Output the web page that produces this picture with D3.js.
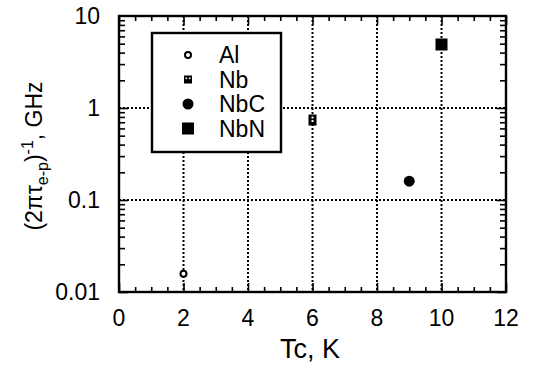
<!DOCTYPE html>
<html>
<head>
<meta charset="utf-8">
<script src="https://cdn.jsdelivr.net/npm/d3@7"></script>
<style>
  body { margin: 0; background: #fff; }
  text { font-family: 'Liberation Sans', Arial, sans-serif; fill: #000; }
</style>
</head>
<body>
<div class="chart"></div>
<script>
// Data
const materials = ['Al', 'Nb', 'NbC', 'NbN'];
const tcValues = [2, 6, 9, 10];
const rateValues = [0.0158, 0.74, 0.16, 4.9];
const markerTypes = ['openCircle', 'dotSquare', 'circle', 'square'];
const xTicks = [0, 2, 4, 6, 8, 10, 12];
const yTicks = [0.01, 0.1, 1, 10];

const w = 538;
const h = 368;
const margin = { top: 16, right: 32, bottom: 76, left: 119 };
const innerW = w - margin.left - margin.right;
const innerH = h - margin.top - margin.bottom;

const svg = d3.select('.chart').append('svg').attr('width', w).attr('height', h);
const g = svg.append('g').attr('transform', `translate(${margin.left},${margin.top})`);

const xScale = d3.scaleLinear().domain([0, 12]).range([0, innerW]);
const yScale = d3.scaleLog().domain([0.01, 10]).range([innerH, 0]);

// grid (dotted)
const gridX = [2, 4, 6, 8, 10];
const gridY = [0.1, 1];
g.selectAll('.gx').data(gridX).enter().append('line')
  .attr('x1', d => xScale(d)).attr('x2', d => xScale(d))
  .attr('y1', 0).attr('y2', innerH)
  .attr('stroke', '#000').attr('stroke-width', 2).attr('stroke-dasharray', '2,2');
g.selectAll('.gy').data(gridY).enter().append('line')
  .attr('y1', d => yScale(d)).attr('y2', d => yScale(d))
  .attr('x1', 0).attr('x2', innerW)
  .attr('stroke', '#000').attr('stroke-width', 2).attr('stroke-dasharray', '2,2');

// minor ticks
const xMinor = d3.range(0, 12.01, 0.5);
const yMinor = [];
[0.01, 0.1, 1].forEach(dec => { for (let k = 1; k <= 9; k++) yMinor.push(dec * k); });

function tickLen(v, majors, big, small) {
  return majors.some(m => Math.abs(m - v) < 1e-9) ? big : small;
}

// bottom and top axes (inward ticks)
const xAxisB = d3.axisBottom(xScale).tickValues(xMinor).tickSizeOuter(0)
  .tickSizeInner(0).tickFormat('');
const bottomG = g.append('g').attr('transform', `translate(0,${innerH})`).call(xAxisB);
bottomG.selectAll('.tick line').attr('y2', d => -tickLen(d, xTicks, 9, 5)).attr('stroke-width', 1.6);
bottomG.select('.domain').remove();

const topG = g.append('g').call(d3.axisTop(xScale).tickValues(xMinor).tickSizeOuter(0).tickSizeInner(0).tickFormat(''));
topG.selectAll('.tick line').attr('y2', d => tickLen(d, xTicks, 9, 5)).attr('stroke-width', 1.6);
topG.select('.domain').remove();

const leftG = g.append('g').call(d3.axisLeft(yScale).tickValues(yMinor).tickSizeOuter(0).tickSizeInner(0).tickFormat(''));
leftG.selectAll('.tick line').attr('x2', d => tickLen(d, yTicks, 9, 6)).attr('stroke-width', 1.6);
leftG.select('.domain').remove();

const rightG = g.append('g').attr('transform', `translate(${innerW},0)`)
  .call(d3.axisRight(yScale).tickValues(yMinor).tickSizeOuter(0).tickSizeInner(0).tickFormat(''));
rightG.selectAll('.tick line').attr('x2', d => -tickLen(d, yTicks, 9, 6)).attr('stroke-width', 1.6);
rightG.select('.domain').remove();

// tick labels
g.selectAll('.xl').data(xTicks).enter().append('text')
  .attr('x', d => xScale(d)).attr('y', innerH + 34)
  .attr('text-anchor', 'middle').style('font-size', '23px').text(d => d);
g.selectAll('.yl').data(yTicks).enter().append('text')
  .attr('x', -19).attr('y', d => yScale(d) + 8)
  .attr('text-anchor', 'end').style('font-size', '23px').text(d => d);

// frame
g.append('rect').attr('width', innerW).attr('height', innerH)
  .attr('fill', 'none').attr('stroke', '#000').attr('stroke-width', 2.4);

// markers
function drawMarker(sel, type, big) {
  if (type === 'openCircle') {
    sel.append('circle').attr('r', 3).attr('fill', '#fff').attr('stroke', '#000').attr('stroke-width', 2);
  } else if (type === 'circle') {
    sel.append('circle').attr('r', 5.5).attr('fill', '#000');
  } else if (type === 'square') {
    sel.append('rect').attr('x', -6).attr('y', -6).attr('width', 12).attr('height', 12).attr('fill', '#000');
  } else {
    const hw = 4, hh = big ? 5.5 : 4;
    sel.append('rect').attr('x', -hw).attr('y', -hh).attr('width', hw * 2).attr('height', hh * 2).attr('fill', '#000');
    if (big) {
      sel.append('rect').attr('x', -1).attr('y', -3.5).attr('width', 2).attr('height', 2).attr('fill', '#fff');
      sel.append('rect').attr('x', -1).attr('y', 0).attr('width', 2).attr('height', 2).attr('fill', '#fff');
    } else {
      sel.append('rect').attr('x', -2.5).attr('y', -2).attr('width', 1.6).attr('height', 1.6).attr('fill', '#fff');
      sel.append('rect').attr('x', 0.9).attr('y', -2).attr('width', 1.6).attr('height', 1.6).attr('fill', '#fff');
    }
  }
}

materials.forEach((m, i) => {
  const mg = g.append('g')
    .attr('transform', `translate(${xScale(tcValues[i])},${yScale(rateValues[i])})`);
  drawMarker(mg, markerTypes[i], true);
});

// legend
const legend = g.append('g').attr('transform', 'translate(33,17)');
legend.append('rect').attr('width', 129).attr('height', 119)
  .attr('fill', '#fff').attr('stroke', '#000').attr('stroke-width', 2.4);
materials.forEach((m, i) => {
  const row = legend.append('g').attr('transform', `translate(36,${22 + i * 24.5})`);
  drawMarker(row, markerTypes[i], false);
  row.append('text').attr('x', 31).attr('y', 8).style('font-size', '23px').text(m);
});

// axis titles
svg.append('text').attr('x', 310).attr('y', 358).attr('text-anchor', 'middle')
  .style('font-size', '27px').text('Tc, K');

const yLab = svg.append('text')
  .attr('transform', 'translate(42,156) rotate(-90)')
  .attr('text-anchor', 'middle').style('font-size', '23px');
yLab.append('tspan').text('(2πτ');
yLab.append('tspan').attr('dy', 6).style('font-size', '16px').text('e-p');
yLab.append('tspan').attr('dy', -6).text(')');
yLab.append('tspan').attr('dy', -9).style('font-size', '16px').text('-1');
yLab.append('tspan').attr('dy', 9).text(', GHz');
</script>
</body>
</html>
